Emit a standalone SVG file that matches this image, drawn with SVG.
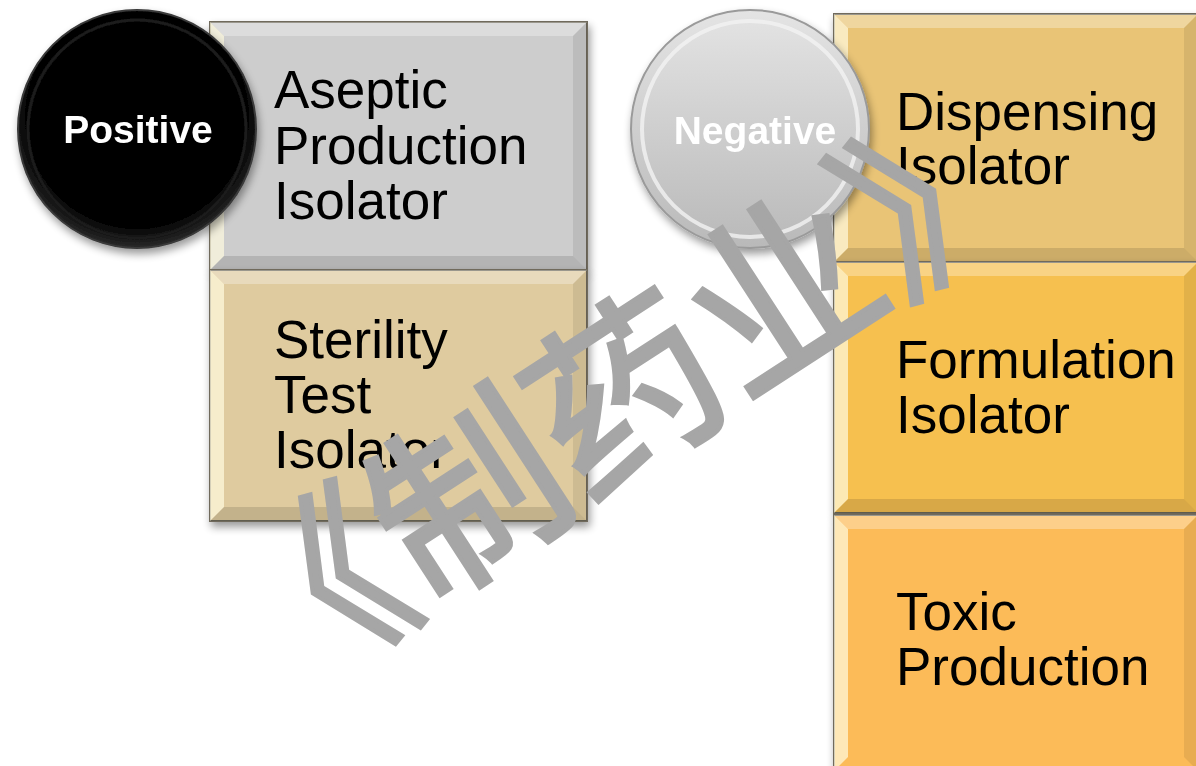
<svg xmlns="http://www.w3.org/2000/svg" width="1196" height="766" viewBox="0 0 1196 766">
<defs>
<style>
.lbl{font-family:"Liberation Sans",Arial,sans-serif;font-size:53px;fill:#000}
.cl{font-family:"Liberation Sans",Arial,sans-serif;font-size:39px;font-weight:bold;fill:#fff;text-anchor:middle}
.box{stroke:#6f6a5c;stroke-width:2}
.hl{fill:#fff;fill-opacity:0.3}
.hl2{fill:#fffbe0;fill-opacity:0.7}
.dk{fill:#000;fill-opacity:0.08}
.dk2{fill:#000;fill-opacity:0.12}
.wm{font-family:"Noto Sans CJK SC","Noto Sans",sans-serif;font-size:188px;font-weight:normal;fill:#a6a6a6;stroke:#a6a6a6;stroke-width:4;stroke-linejoin:miter}
</style>
<radialGradient id="gBlack" cx="0.5" cy="0.45" r="0.55">
<stop offset="0" stop-color="#000"/><stop offset="0.85" stop-color="#050505"/><stop offset="1" stop-color="#2a2a2a"/>
</radialGradient>
<linearGradient id="gGray" x1="0" y1="0" x2="0" y2="1">
<stop offset="0" stop-color="#e4e4e4"/><stop offset="1" stop-color="#b9b9b9"/>
</linearGradient>
<filter id="sh" x="-10%" y="-10%" width="130%" height="130%">
<feGaussianBlur in="SourceAlpha" stdDeviation="4"/>
<feOffset dx="2" dy="5" result="b"/>
<feComponentTransfer><feFuncA type="linear" slope="0.4"/></feComponentTransfer>
<feMerge><feMergeNode/><feMergeNode in="SourceGraphic"/></feMerge>
</filter>
</defs>
<rect width="1196" height="766" fill="#fff"/>

<g id="connectors"></g>

<g id="box-aseptic" filter="url(#sh)">
<rect class="box" x="210" y="22" width="377" height="248" fill="#cdcdcd"/>
<polygon class="hl" points="210,22 587,22 573,36 224,36"/>
<polygon class="hl2" points="210,22 224,36 224,256 210,270"/>
<polygon class="dk" points="587,22 587,270 573,256 573,36"/>
<polygon class="dk2" points="210,270 587,270 573,256 224,256"/>
<text class="lbl" x="274" y="108">Aseptic</text>
<text class="lbl" x="274" y="164">Production</text>
<text class="lbl" x="274" y="219">Isolator</text>
</g>

<g id="box-sterility" filter="url(#sh)">
<rect class="box" x="210" y="270" width="377" height="251" fill="#dfcb9f"/>
<polygon class="hl" points="210,270 587,270 573,284 224,284"/>
<polygon class="hl2" points="210,270 224,284 224,507 210,521"/>
<polygon class="dk" points="587,270 587,521 573,507 573,284"/>
<polygon class="dk2" points="210,521 587,521 573,507 224,507"/>
<text class="lbl" x="274" y="358">Sterility</text>
<text class="lbl" x="274" y="413">Test</text>
<text class="lbl" x="274" y="468">Isolator</text>
</g>

<g id="node-positive" filter="url(#sh)">
<circle cx="137" cy="129" r="119" fill="url(#gBlack)" stroke="#3a3a3a" stroke-width="2"/>
<circle cx="137" cy="129" r="109" fill="none" stroke="#1a1a1a" stroke-width="3"/>
<text class="cl" x="138" y="143">Positive</text>
</g>

<g id="box-dispensing" filter="url(#sh)">
<rect class="box" x="834" y="14" width="364" height="248" fill="#e9c476"/>
<polygon class="hl" points="834,14 1198,14 1184,28 848,28"/>
<polygon class="hl2" points="834,14 848,28 848,248 834,262"/>
<polygon class="dk" points="1198,14 1198,262 1184,248 1184,28"/>
<polygon class="dk2" points="834,262 1198,262 1184,248 848,248"/>
<text class="lbl" x="896" y="130">Dispensing</text>
<text class="lbl" x="896" y="184">Isolator</text>
</g>

<g id="box-formulation" filter="url(#sh)">
<rect class="box" x="834" y="262" width="364" height="251" fill="#f6c050"/>
<polygon class="hl" points="834,262 1198,262 1184,276 848,276"/>
<polygon class="hl2" points="834,262 848,276 848,499 834,513"/>
<polygon class="dk" points="1198,262 1198,513 1184,499 1184,276"/>
<polygon class="dk2" points="834,513 1198,513 1184,499 848,499"/>
<text class="lbl" x="896" y="378">Formulation</text>
<text class="lbl" x="896" y="433">Isolator</text>
</g>

<g id="box-toxic" filter="url(#sh)">
<rect class="box" x="834" y="515" width="364" height="256" fill="#fcbb58"/>
<polygon class="hl" points="834,515 1198,515 1184,529 848,529"/>
<polygon class="hl2" points="834,515 848,529 848,757 834,771"/>
<polygon class="dk" points="1198,515 1198,771 1184,757 1184,529"/>
<text class="lbl" x="896" y="630">Toxic</text>
<text class="lbl" x="896" y="685">Production</text>
</g>

<g id="node-negative" filter="url(#sh)">
<circle cx="750" cy="129" r="119" fill="url(#gGray)" stroke="#9a9a9a" stroke-width="2"/>
<circle cx="750" cy="129" r="108" fill="none" stroke="#f2f2f2" stroke-width="4" stroke-opacity="0.8"/>
<text class="cl" x="755" y="144">Negative</text>
</g>

<g id="watermark">
<text class="wm" x="627" y="462" text-anchor="middle" transform="rotate(-33 627 397)">《制药业》</text>
</g>
</svg>
